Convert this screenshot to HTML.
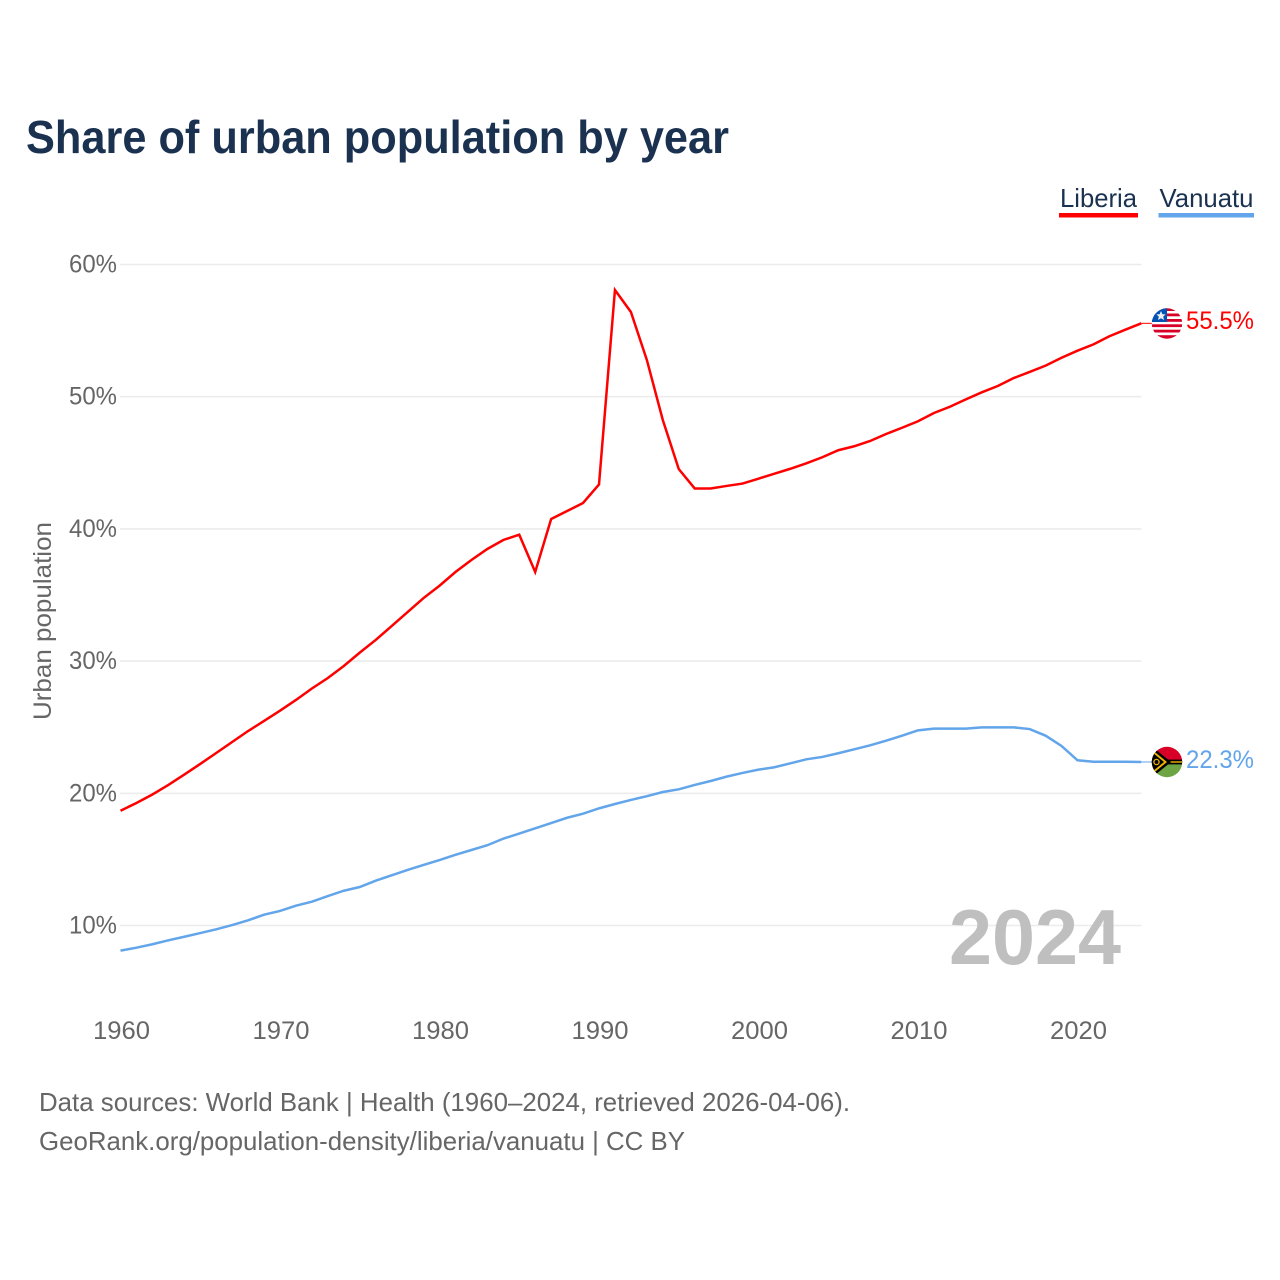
<!DOCTYPE html>
<html lang="en">
<head>
<meta charset="utf-8">
<title>Share of urban population by year</title>
<style>
html,body{margin:0;padding:0;background:#fff;}
svg{display:block;font-family:"Liberation Sans",sans-serif;}
</style>
</head>
<body>
<svg id="chart" width="1280" height="1280" viewBox="0 0 1280 1280" xmlns="http://www.w3.org/2000/svg">
  <defs>
    <clipPath id="flag-clip-lr"><circle cx="1167" cy="323.5" r="15.2"/></clipPath>
    <clipPath id="flag-clip-vu"><circle cx="1167" cy="762" r="15.2"/></clipPath>
  </defs>
  <text x="26" y="153" font-size="46" font-weight="700" fill="#1a3150" textLength="703" lengthAdjust="spacingAndGlyphs">Share of urban population by year</text>

  <g>
    <text x="1060" y="207" font-size="26" fill="#1a3150" textLength="77" lengthAdjust="spacingAndGlyphs">Liberia</text>
    <rect x="1059" y="213" width="79" height="4.5" fill="#ff0000"/>
  </g>
  <g>
    <text x="1159.5" y="207" font-size="26" fill="#1a3150" textLength="94" lengthAdjust="spacingAndGlyphs">Vanuatu</text>
    <rect x="1158.5" y="213" width="95.5" height="4.5" fill="#62a5ea"/>
  </g>

  <g id="grid"></g>
  <g id="y-ticks"></g>
  <g id="x-ticks"></g>

  <text transform="translate(51 720) rotate(-90)" font-size="25" fill="#666666" textLength="198" lengthAdjust="spacingAndGlyphs">Urban population</text>

  <text x="949" y="964" font-size="78" font-weight="700" fill="#bfbfbf" textLength="172" lengthAdjust="spacingAndGlyphs">2024</text>

  <g id="series"></g>

  <g clip-path="url(#flag-clip-lr)">
    <rect x="1150" y="306" width="34" height="36" fill="#ffffff"/>
    <rect x="1150" y="308" width="34" height="3" fill="#d80027"/>
    <rect x="1150" y="313.5" width="34" height="2.8" fill="#d80027"/>
    <rect x="1150" y="319" width="34" height="2.8" fill="#d80027"/>
    <rect x="1150" y="324.3" width="34" height="2.8" fill="#d80027"/>
    <rect x="1150" y="329.7" width="34" height="2.8" fill="#d80027"/>
    <rect x="1150" y="335.2" width="34" height="4" fill="#d80027"/>
    <rect x="1150" y="306" width="17" height="16" fill="#0052b4"/>
    <polygon points="1161,311 1162.4,314.2 1165.6,314.4 1163.2,316.6 1164,320 1161,318.2 1158,320 1158.8,316.6 1156.4,314.4 1159.6,314.2" fill="#f0f0f0"/>
  </g>
  <g clip-path="url(#flag-clip-vu)">
    <rect x="1150" y="745" width="34" height="17" fill="#d80027"/>
    <rect x="1150" y="762" width="34" height="17" fill="#6da544"/>
    <rect x="1150" y="759.6" width="34" height="4.8" fill="#000000"/>
    <rect x="1165" y="761.3" width="19" height="1.4" fill="#f0b400"/>
    <polygon points="1150,745 1171,762 1150,779" fill="#000000"/>
    <polygon points="1150,748 1167,762 1150,776" fill="#f0b400"/>
    <polygon points="1150,750.5 1164,762 1150,773.5" fill="#000000"/>
    <circle cx="1156.5" cy="762" r="2.6" fill="none" stroke="#f0b400" stroke-width="1.3"/>
  </g>

  <text x="1186" y="329" font-size="25" fill="#ff0000" textLength="68" lengthAdjust="spacingAndGlyphs">55.5%</text>
  <text x="1186" y="768" font-size="25" fill="#62a5ea" textLength="68" lengthAdjust="spacingAndGlyphs">22.3%</text>

  <text x="39" y="1111" font-size="26" fill="#666666" textLength="811" lengthAdjust="spacingAndGlyphs">Data sources: World Bank | Health (1960–2024, retrieved 2026-04-06).</text>
  <text x="39" y="1150" font-size="26" fill="#666666" textLength="646" lengthAdjust="spacingAndGlyphs">GeoRank.org/population-density/liberia/vanuatu | CC BY</text>
</svg>
<script>
var startYear = 1960;
var yTickValues = [10, 20, 30, 40, 50, 60];
var xTickYears = [1960, 1970, 1980, 1990, 2000, 2010, 2020];
var liberiaValues = [18.68,19.27,19.91,20.63,21.42,22.22,23.05,23.88,24.71,25.47,26.25,27.06,27.93,28.72,29.63,30.64,31.6,32.65,33.71,34.77,35.7,36.74,37.65,38.48,39.16,39.56,36.74,40.75,41.35,41.96,43.36,58.07,56.41,52.78,48.24,44.53,43.06,43.06,43.25,43.43,43.8,44.18,44.55,44.96,45.42,45.95,46.25,46.65,47.18,47.65,48.14,48.77,49.24,49.8,50.33,50.81,51.41,51.87,52.35,52.95,53.48,53.96,54.57,55.07,55.55];
var vanuatuValues = [8.1,8.32,8.58,8.88,9.15,9.43,9.71,10.03,10.39,10.82,11.1,11.5,11.8,12.23,12.63,12.91,13.39,13.8,14.2,14.58,14.95,15.35,15.71,16.07,16.57,16.95,17.35,17.75,18.15,18.46,18.86,19.19,19.5,19.78,20.1,20.3,20.63,20.93,21.26,21.54,21.79,21.97,22.27,22.57,22.75,23.03,23.33,23.63,23.98,24.36,24.76,24.89,24.89,24.89,24.99,24.99,24.99,24.86,24.36,23.58,22.5,22.39,22.39,22.39,22.37];

var NS = 'http://www.w3.org/2000/svg';
function xScale(year) { return 120.5 + (year - 1960) * 15.95; }
function yScale(v) { return 264.5 + (60 - v) * 13.22; }

var grid = document.getElementById('grid');
var yTicks = document.getElementById('y-ticks');
var xTicks = document.getElementById('x-ticks');
var seriesGroup = document.getElementById('series');

yTickValues.forEach(function (v) {
  var line = document.createElementNS(NS, 'line');
  line.setAttribute('x1', 120);
  line.setAttribute('x2', 1141.5);
  line.setAttribute('y1', yScale(v));
  line.setAttribute('y2', yScale(v));
  line.setAttribute('stroke', '#ececec');
  line.setAttribute('stroke-width', 1.6);
  
  
  grid.appendChild(line);

  var label = document.createElementNS(NS, 'text');
  label.setAttribute('x', 69);
  label.setAttribute('y', yScale(v) + 8);
  label.setAttribute('font-size', 25);
  label.setAttribute('fill', '#666666');
  label.setAttribute('textLength', 48);
  label.setAttribute('lengthAdjust', 'spacingAndGlyphs');
  
  
  label.textContent = v + '%';
  yTicks.appendChild(label);
});

xTickYears.forEach(function (yr) {
  var label = document.createElementNS(NS, 'text');
  label.setAttribute('x', xScale(yr) - 27.5);
  label.setAttribute('y', 1039);
  label.setAttribute('font-size', 25);
  label.setAttribute('fill', '#666666');
  label.setAttribute('textLength', 57);
  label.setAttribute('lengthAdjust', 'spacingAndGlyphs');
  
  
  label.textContent = yr;
  xTicks.appendChild(label);
});

function drawSeries(values, colour, name) {
  var d = values.map(function (v, i) {
    return (i ? 'L' : 'M') + xScale(startYear + i).toFixed(2) + ' ' + yScale(v).toFixed(2);
  }).join(' ');
  var path = document.createElementNS(NS, 'path');
  path.setAttribute('d', d);
  path.setAttribute('fill', 'none');
  path.setAttribute('stroke', colour);
  path.setAttribute('stroke-width', 2.5);
  path.setAttribute('stroke-linejoin', 'miter');
  
  
  seriesGroup.appendChild(path);

  var endY = yScale(values[values.length - 1]);
  var connector = document.createElementNS(NS, 'line');
  connector.setAttribute('x1', xScale(startYear + values.length - 1));
  connector.setAttribute('x2', 1153);
  connector.setAttribute('y1', endY);
  connector.setAttribute('y2', endY);
  connector.setAttribute('stroke', colour);
  connector.setAttribute('stroke-width', 1);
  
  
  seriesGroup.appendChild(connector);
}
drawSeries(liberiaValues, '#ff0000', 'liberia');
drawSeries(vanuatuValues, '#62a5ea', 'vanuatu');
</script>
</body>
</html>
